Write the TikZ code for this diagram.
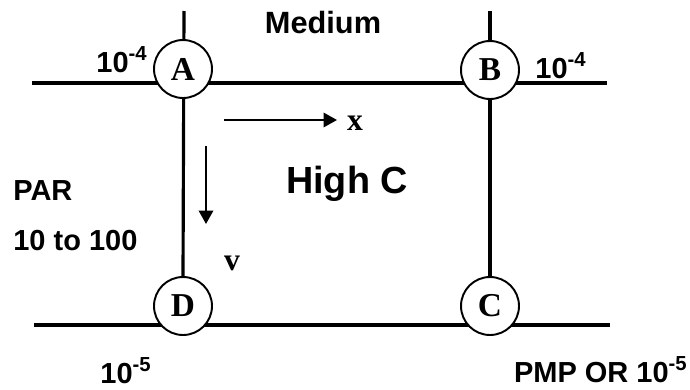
\documentclass[tikz,border=0pt]{standalone}
\usepackage{fontspec}
\setmainfont{Liberation Serif}
\setsansfont{Liberation Sans}
\usetikzlibrary{arrows.meta, backgrounds}

\begin{document}
\begin{tikzpicture}[x=0.02cm, y=-0.02cm, >={Triangle[length=0.27cm, width=0.29cm]},
  station/.style={circle, draw, fill=white, line width=1.1pt, minimum size=1.16cm,
    inner sep=0pt, font=\fontsize{19}{22}\selectfont\bfseries},
  lbl/.style={font=\fontsize{16.5}{20}\selectfont\sffamily\bfseries, inner sep=0pt, anchor=base},
  dirlbl/.style={font=\fontsize{18}{21}\selectfont\bfseries, inner sep=0pt, anchor=base},
  hline/.style={line width=2.3pt},
  vline/.style={line width=1.8pt}]

  \useasboundingbox (0,0) rectangle (690,389);

  % free ends of the lines
  \coordinate (TopW) at (32,83);
  \coordinate (TopE) at (607,83);
  \coordinate (BotW) at (34,325);
  \coordinate (BotE) at (610,325);
  \coordinate (LeftN) at (184,11);
  \coordinate (RightN) at (490,11);

  % corner stations
  \node[station] (A) at (183,69) {A};
  \node[station] (B) at (490,70) {B};
  \node[station] (C) at (490,306) {C};
  \node[station] (D) at (183,306) {D};

  % lines behind the stations
  \begin{scope}[on background layer]
    \draw[hline] (TopW) -- (TopE);
    \draw[hline] (BotW) -- (BotE);
    \draw[vline] (LeftN) -- (D.north);
    \draw[vline] (RightN) -- (C.north);
  \end{scope}

  % direction arrows
  \coordinate (xs) at (224,120);
  \coordinate (xe) at (337,120);
  \coordinate (vs) at (206,146);
  \coordinate (ve) at (206,224);
  \draw[->, line width=1.1pt] (xs) -- (xe);
  \draw[->, line width=1.1pt] (vs) -- (ve);
  \node[dirlbl] (xlab) at (355,130) {x};
  \node[dirlbl] (vlab) at (232,270) {v};

  % labels
  \node[lbl, font=\fontsize{17.5}{21}\selectfont\sffamily\bfseries] (medium) at (323,33) {Medium};
  \node[lbl, font=\fontsize{21.5}{25}\selectfont\sffamily\bfseries] (highc) at (347,193) {High C};
  \node[lbl, anchor=base west] (par) at (13,200) {PAR};
  \node[lbl, anchor=base west] (range) at (13,250) {10 to 100};
  \node[lbl] (cA) at (122,72) {10\textsuperscript{-4}};
  \node[lbl] (cB) at (561,78) {10\textsuperscript{-4}};
  \node[lbl] (cD) at (126,383) {10\textsuperscript{-5}};
  \node[lbl, anchor=base east] (cC) at (688,382) {PMP OR 10\textsuperscript{-5}};

\end{tikzpicture}
\end{document}
